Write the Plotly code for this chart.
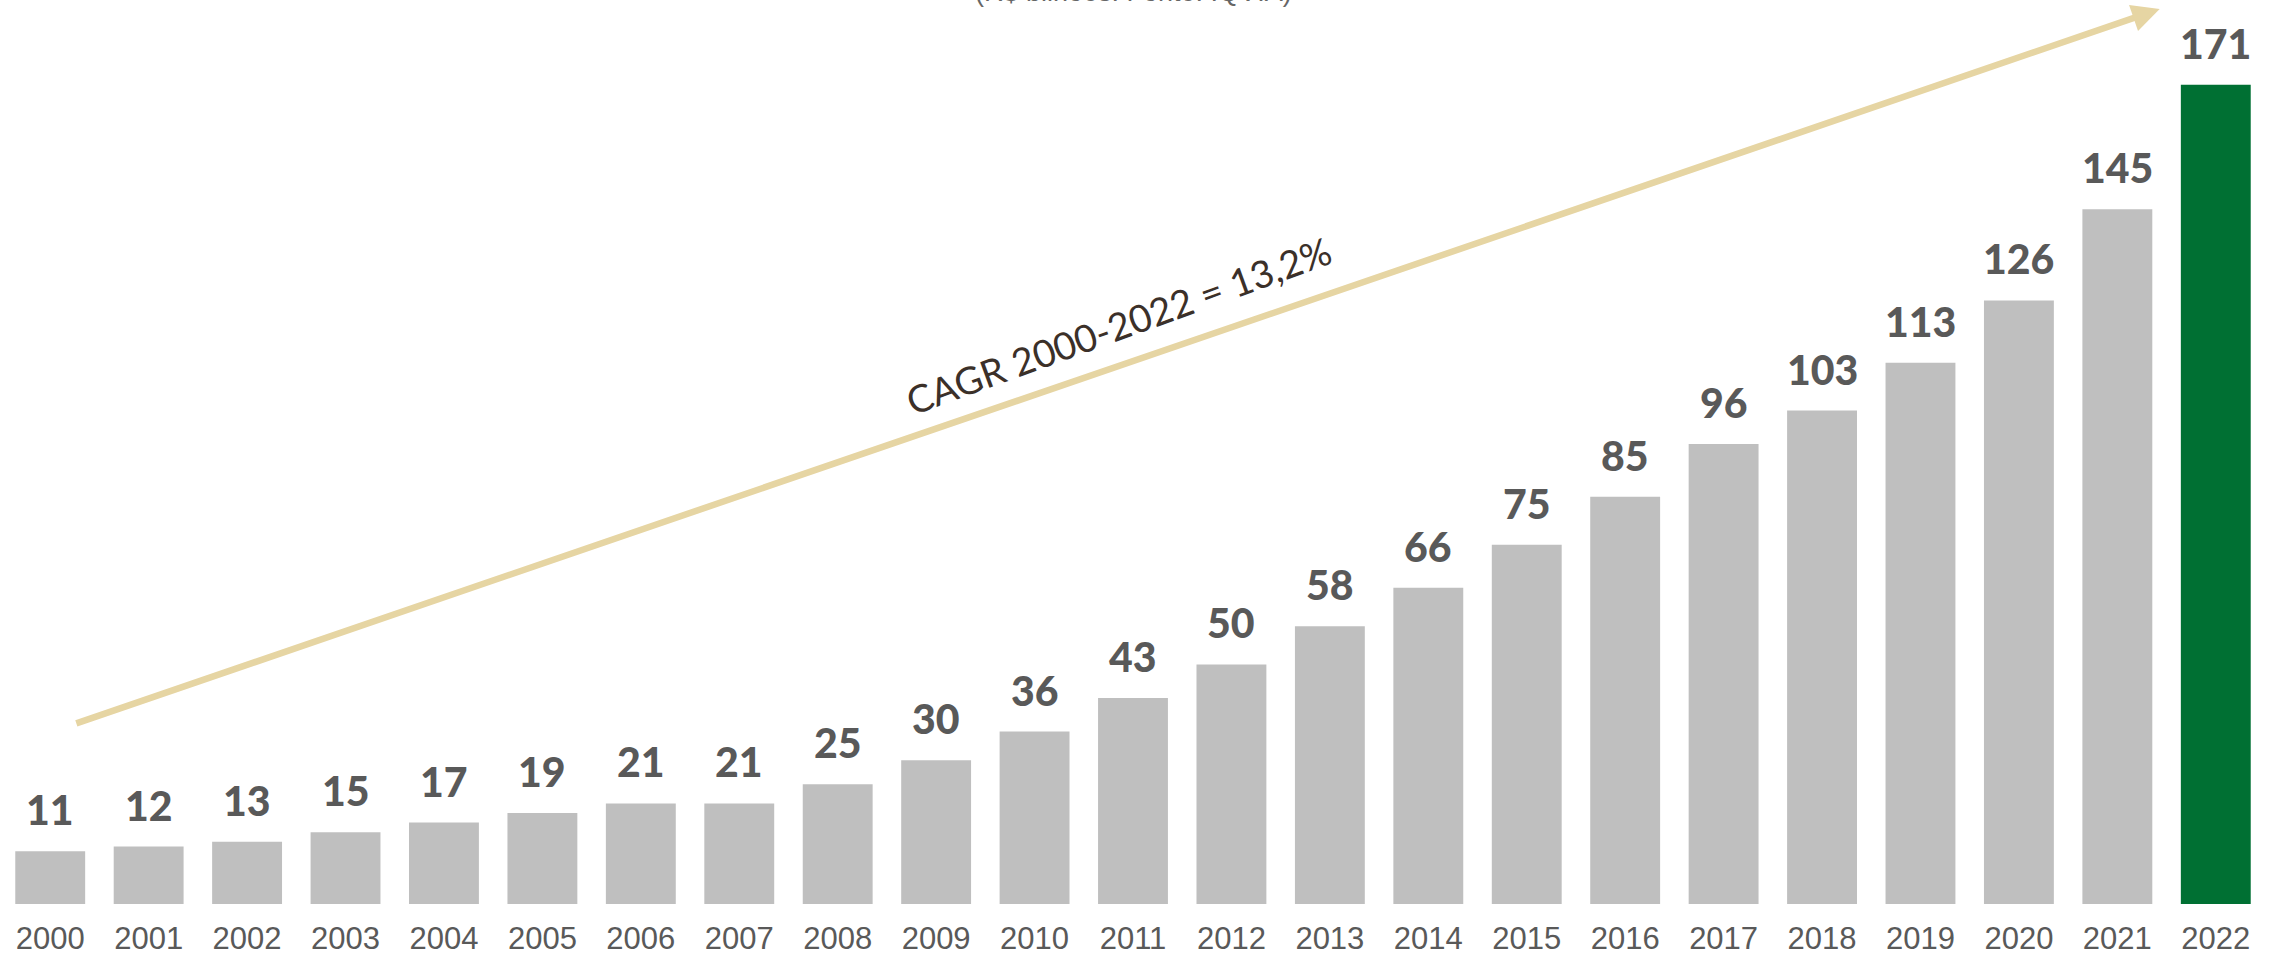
import plotly.graph_objects as go

# Mercado farmacêutico: faturamento anual (R$ bilhões)
years = [str(y) for y in range(2000, 2023)]
values = [11, 12, 13, 15, 17, 19, 21, 21, 25, 30, 36, 43, 50, 58, 66, 75, 85, 96, 103, 113, 126, 145, 171]

subtitle = "(R$ bilhões. Fonte: IQVIA)"
cagr_label = "CAGR 2000-2022 = 13,2%"

GREY = "#bfbfbf"
GREEN = "#007033"
LABEL = "#595959"

bar_colors = [GREY] * (len(values) - 1) + [GREEN]

fig = go.Figure()
fig.add_trace(go.Bar(
    x=list(range(len(years))),
    y=values,
    marker=dict(color=bar_colors, line=dict(width=0)),
    width=0.71,
    hoverinfo="skip",
))

# value labels above each bar
annotations = [
    dict(x=i, y=v, xref="x", yref="y", text=str(v), showarrow=False,
         xanchor="center", yanchor="bottom", yshift=15,
         font=dict(family="Lato", size=41, color=LABEL, weight=900))
    for i, v in enumerate(values)
]

# growth arrow
annotations.append(dict(
    x=21.43, y=186.8, xref="x", yref="y",
    ax=0.25, ay=37.6, axref="x", ayref="y",
    text="", showarrow=True, arrowhead=2, arrowsize=0.85,
    arrowwidth=6.5, arrowcolor="#e6d5a3", standoff=0,
))

annotations.append(dict(
    x=10.85, y=120.9, xref="x", yref="y", text=cagr_label, showarrow=False,
    textangle=-20, xanchor="center", yanchor="middle",
    font=dict(family="Lato", size=38, color="#3b3029"),
))

annotations.append(dict(
    x=0.5, y=1, xref="paper", yref="paper", text=subtitle, showarrow=False,
    xanchor="center", yanchor="bottom", yshift=-9,
    font=dict(family="Liberation Sans", size=27, color="#666666"),
))

fig.update_layout(
    width=2277, height=959,
    margin=dict(l=1, r=12, t=0, b=55),
    paper_bgcolor="white", plot_bgcolor="white",
    showlegend=False,
    bargap=0.29,
    annotations=annotations,
    xaxis=dict(
        range=[-0.5, 22.5], tickmode="array",
        tickvals=list(range(len(years))), ticktext=years,
        showgrid=False, zeroline=False, showline=False, ticks="",
        ticklabelstandoff=13,
        tickfont=dict(family="Liberation Sans", size=31, color=LABEL),
    ),
    yaxis=dict(range=[0, 188.7], visible=False, showgrid=False, zeroline=False),
)

fig.write_html("out.html")
